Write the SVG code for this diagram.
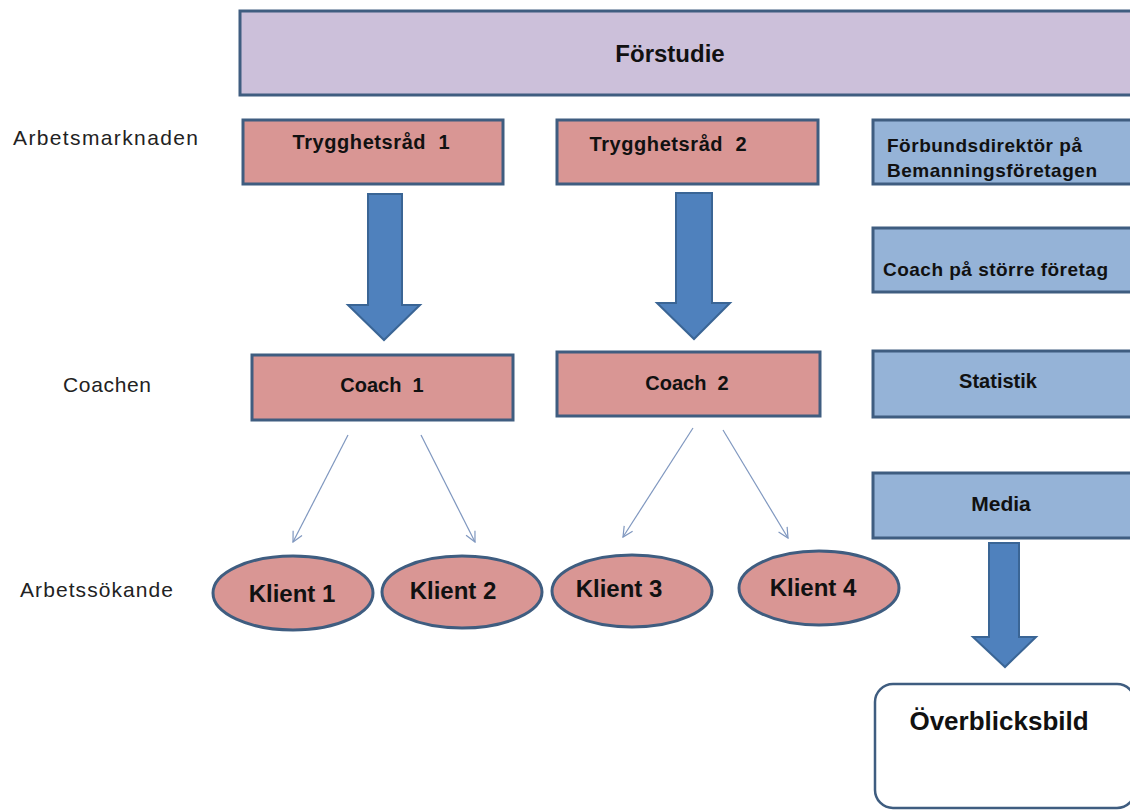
<svg xmlns="http://www.w3.org/2000/svg" width="1130" height="810" viewBox="0 0 1130 810">
<defs>
<style>
.box{stroke:#3F5D80;stroke-width:3}
.lav{fill:#CCC0DA}
.pink{fill:#D99694}
.blue{fill:#95B3D7}
.t{font-family:"Liberation Sans",Arial,sans-serif;font-weight:bold;fill:#111;text-anchor:middle;white-space:pre}
.s{text-anchor:start}
.lbl{font-family:"Liberation Sans",Arial,sans-serif;fill:#222;font-size:21px}
.big{fill:#4F81BD;stroke:#3A6595;stroke-width:2;stroke-linejoin:miter}
.thin{stroke:#7F97BF;stroke-width:1.2;fill:none}
</style>
<marker id="ah" viewBox="0 0 12 12" refX="11" refY="6" markerWidth="12" markerHeight="12" markerUnits="userSpaceOnUse" orient="auto">
<path d="M1,1 L11,6 L1,11" fill="none" stroke="#7F97BF" stroke-width="1.2"/>
</marker>
</defs>
<rect width="1130" height="810" fill="#fff"/>

<g id="forstudie">
<rect class="box lav" x="240" y="11" width="895" height="84"/>
<text class="t" x="670" y="62" font-size="24">Förstudie</text>
</g>

<g id="labels">
<text class="lbl" x="13" y="145" textLength="185">Arbetsmarknaden</text>
<text class="lbl" x="63" y="392" textLength="88">Coachen</text>
<text class="lbl" x="20" y="597" textLength="153">Arbetssökande</text>
</g>

<g id="tr1">
<rect class="box pink" x="243" y="120" width="260" height="64"/>
<text class="t" x="371" y="149" font-size="20" textLength="157">Trygghetsråd  1</text>
</g>
<g id="tr2">
<rect class="box pink" x="557" y="120" width="261" height="64"/>
<text class="t" x="668" y="151" font-size="20" textLength="157">Trygghetsråd  2</text>
</g>

<g id="forbund">
<rect class="box blue" x="873" y="120" width="262" height="64"/>
<text class="t s" x="887" y="152" font-size="19" textLength="195">Förbundsdirektör på</text>
<text class="t s" x="887" y="177" font-size="19" textLength="210">Bemanningsföretagen</text>
</g>
<g id="coachstorre">
<rect class="box blue" x="873" y="228" width="262" height="64"/>
<text class="t s" x="883" y="276" font-size="19" textLength="225">Coach på större företag</text>
</g>
<g id="statistik">
<rect class="box blue" x="873" y="351" width="262" height="66"/>
<text class="t" x="998" y="388" font-size="20">Statistik</text>
</g>
<g id="media">
<rect class="box blue" x="873" y="473" width="262" height="65"/>
<text class="t" x="1001" y="511" font-size="21">Media</text>
</g>

<g id="coach1">
<rect class="box pink" x="252" y="355" width="261" height="65"/>
<text class="t" x="382" y="392" font-size="20">Coach  1</text>
</g>
<g id="coach2">
<rect class="box pink" x="557" y="352" width="263" height="64"/>
<text class="t" x="687" y="390" font-size="20">Coach  2</text>
</g>

<g id="klient1">
<ellipse class="box pink" cx="293" cy="593" rx="80" ry="37"/>
<text class="t" x="292" y="602" font-size="24">Klient 1</text>
</g>
<g id="klient2">
<ellipse class="box pink" cx="462" cy="592" rx="80" ry="36"/>
<text class="t" x="453" y="599" font-size="24">Klient 2</text>
</g>
<g id="klient3">
<ellipse class="box pink" cx="632" cy="591" rx="80" ry="36"/>
<text class="t" x="619" y="597" font-size="24">Klient 3</text>
</g>
<g id="klient4">
<ellipse class="box pink" cx="819" cy="588" rx="80" ry="37"/>
<text class="t" x="813" y="596" font-size="24">Klient 4</text>
</g>

<g id="overblick">
<rect x="875" y="684" width="260" height="124" rx="18" fill="#fff" stroke="#3F5D80" stroke-width="2.5"/>
<text class="t" x="999" y="730" font-size="26">Överblicksbild</text>
</g>

<g id="connectors">
<path class="big" d="M368,194 H402 V305 H420 L384,340 L348,305 H368 Z"/>
<path class="big" d="M676,193 H712 V303 H730 L694,339 L657,303 H676 Z"/>
<path class="big" d="M989,543 H1019 V637 H1036 L1005,667 L973,637 H989 Z"/>
<line class="thin" x1="348" y1="435" x2="293" y2="542" marker-end="url(#ah)"/>
<line class="thin" x1="421" y1="435" x2="475" y2="542" marker-end="url(#ah)"/>
<line class="thin" x1="693" y1="428" x2="623" y2="537" marker-end="url(#ah)"/>
<line class="thin" x1="723" y1="430" x2="788" y2="538" marker-end="url(#ah)"/>
</g>
</svg>
